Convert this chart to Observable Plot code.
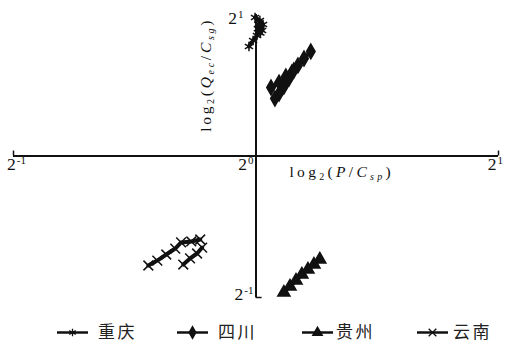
<!DOCTYPE html>
<html><head><meta charset="utf-8">
<script src="https://cdn.jsdelivr.net/npm/d3@7"></script>
<script src="https://cdn.jsdelivr.net/npm/@observablehq/plot@0.6"></script>
<style>
body{margin:0;background:#fff;}
#wrap{width:511px;height:343px;position:relative;overflow:hidden;}
#wrap svg{display:block;}
</style></head><body><div id="wrap"></div>
<script>
// Categories and marker symbols
const provinces = ["重庆", "四川", "贵州", "云南"];
const symbols = ["asterisk", "diamond", "triangle", "times"];
// Axis ticks (log2 exponents) and their labels (base, exponent)
const tickValues = [-1, 0, 1];
const tickBase = "2";
const tickExponents = ["-1", "0", "1"];
// Series values: [log2(P/Csp), log2(Qec/Csg), sub-line]
const chongqing = [[-0.029,0.774,0],[-0.012,0.816,0],[0.004,0.852,0],[0.025,0.887,0],[0.029,0.929,0],[0.016,0.958,0],[-0.004,0.979,0],
                   [0.008,0.900,1],[0.018,0.870,1],[0.010,0.930,1]];
const sichuan = [[0.226,0.739,0],[0.198,0.689,0],[0.173,0.640,0],[0.148,0.590,0],[0.123,0.562,0],[0.095,0.519,0],[0.062,0.484,0],
                 [0.156,0.604,1],[0.136,0.548,1],[0.115,0.491,1],[0.095,0.442,1],[0.078,0.406,1]];
const guizhou = [[0.115,-0.965,0],[0.140,-0.922,0],[0.165,-0.880,0],[0.189,-0.837,0],[0.214,-0.802,0],[0.239,-0.767,0],[0.263,-0.731,0]];
const yunnan = [[-0.444,-0.774,0],[-0.407,-0.739,0],[-0.370,-0.696,0],[-0.333,-0.654,0],[-0.309,-0.611,0],[-0.267,-0.604,0],[-0.230,-0.590,0],
                [-0.300,-0.767,1],[-0.272,-0.724,1],[-0.243,-0.689,1],[-0.222,-0.647,1]];

const seriesList = [chongqing, sichuan, guizhou, yunnan];
const rows = [];
seriesList.forEach((s, i) => s.forEach(([x, y, g]) => rows.push({province: provinces[i], group: provinces[i] + g, x, y})));

const serif = "'Liberation Serif','DejaVu Serif',serif";

const chart = Plot.plot({
  width: 511, height: 310,
  marginLeft: 13, marginRight: 13, marginTop: 14, marginBottom: 13,
  x: {domain: [-1, 1], axis: null},
  y: {domain: [-1, 1], axis: null},
  symbol: {domain: provinces, range: symbols},
  style: {fontFamily: serif, background: "white"},
  marks: [
    Plot.ruleY([0], {x1: -1, x2: 1, stroke: "#111", strokeWidth: 2}),
    Plot.ruleX([0], {y1: -1, y2: 1, stroke: "#111", strokeWidth: 2}),
    Plot.ruleX([tickValues[0], tickValues[2]], {y1: 0, y2: 0.035, stroke: "#111", strokeWidth: 1.5}),
    Plot.ruleY([tickValues[0]], {x1: 0, x2: 0.025, stroke: "#111", strokeWidth: 1.5}),
    Plot.line(rows, {x: "x", y: "y", z: "group", stroke: "#111", strokeWidth: 4, strokeLinejoin: "round", strokeLinecap: "round"}),
    Plot.dot(rows, {x: "x", y: "y", symbol: "province", r: 4.5, fill: "#111", stroke: "#111", strokeWidth: 1.5})
  ]
});

const wrap = document.getElementById("wrap");
wrap.appendChild(chart);

const xs = chart.scale("x"), ys = chart.scale("y");
const svg = d3.select(chart);

function label(x, y, anchor, exp) {
  const t = svg.append("text").attr("x", x).attr("y", y).attr("text-anchor", anchor)
    .attr("font-family", serif).attr("font-size", 17.5).attr("fill", "#111");
  t.append("tspan").text(tickBase);
  t.append("tspan").attr("font-size", 11).attr("dy", -6.5).attr("dx", 1).text(exp);
}
// x tick labels
label(xs.apply(tickValues[0]) - 6, ys.apply(0) + 14.5, "start", tickExponents[0]);
label(xs.apply(tickValues[1]) - 2, ys.apply(0) + 14.5, "end", tickExponents[1]);
label(xs.apply(tickValues[2]) + 5, ys.apply(0) + 14.5, "end", tickExponents[2]);
// y tick labels
label(xs.apply(0) - 12, ys.apply(tickValues[2]) + 10, "end", tickExponents[2]);
label(xs.apply(0) - 2, ys.apply(tickValues[0]) + 3, "end", tickExponents[0]);

function richTitle(g, parts) {
  parts.forEach(p => {
    const t = g.append("tspan").text(p.t);
    if (p.sub) t.attr("font-size", 10).attr("baseline-shift", "-25%");
    if (p.it) t.attr("font-style", "italic");
  });
}

// x axis title
const xt = svg.append("text")
  .attr("x", xs.apply(0) + 34).attr("y", ys.apply(0) + 21).attr("text-anchor", "start")
  .attr("font-family", serif).attr("font-size", 15.5).attr("letter-spacing", 3.3).attr("fill", "#111");
richTitle(xt, [{t: "log"}, {t: "2", sub: true}, {t: "("}, {t: "P", it: true}, {t: "/"}, {t: "C", it: true}, {t: "sp", sub: true, it: true}, {t: ")"}]);

// y axis title
const yt = svg.append("text")
  .attr("transform", `translate(${xs.apply(0) - 45},${ys.apply(0.57)}) rotate(-90)`)
  .attr("text-anchor", "middle")
  .attr("font-family", serif).attr("font-size", 15.5).attr("letter-spacing", 2.7).attr("fill", "#111");
richTitle(yt, [{t: "log"}, {t: "2", sub: true}, {t: "("}, {t: "Q", it: true}, {t: "ec", sub: true, it: true}, {t: "/"}, {t: "C", it: true}, {t: "sg", sub: true, it: true}, {t: ")"}]);

// Legend below the chart
const legendX = [57, 177, 302, 417];
const labelX = [98, 218, 336, 453];
const symGen = {asterisk: d3.symbolAsterisk, diamond: d3.symbolDiamond, triangle: d3.symbolTriangle, times: d3.symbolTimes};
const lg = d3.select(wrap).append("svg").attr("width", 511).attr("height", 33);
provinces.forEach((p, i) => {
  const g = lg.append("g");
  const cy = 21.5;
  g.append("line").attr("x1", legendX[i]).attr("x2", legendX[i] + 31).attr("y1", cy + 1).attr("y2", cy + 1)
    .attr("stroke", "#111").attr("stroke-width", 2.5);
  g.append("path").attr("transform", `translate(${legendX[i] + 15.5},${cy + 1})`)
    .attr("d", d3.symbol(symGen[symbols[i]], 40)())
    .attr("fill", "#111").attr("stroke", "#111").attr("stroke-width", 1.3);
  g.append("text").attr("x", labelX[i]).attr("y", cy).attr("dy", "0.36em")
    .attr("font-family", "'Noto Sans CJK SC',sans-serif").attr("font-size", 17)
    .attr("letter-spacing", 2.5).attr("fill", "#222").text(p);
});
</script></body></html>
